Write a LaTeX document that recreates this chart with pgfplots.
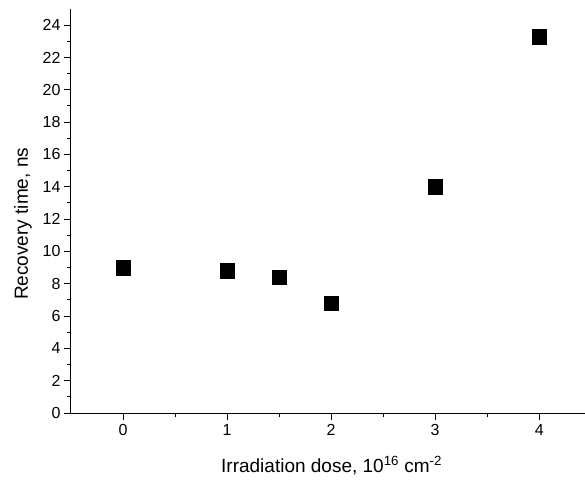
\documentclass[border=0pt]{standalone}
\usepackage{fontspec}
\setmainfont{Liberation Sans}
\usepackage{pgfplots}
\pgfplotsset{compat=1.18}
\begin{document}
\begin{tikzpicture}
\path[use as bounding box] (-71pt,-68pt) rectangle (514pt,413pt);
\begin{axis}[
  at={(0,0)}, anchor=south west,
  scale only axis, width=514pt, height=404pt,
  xmin=-0.5, xmax=4.44, ymin=0, ymax=25,
  axis x line=bottom, axis y line=left,
  axis line style={-, line width=1pt},
  tick align=outside, major tick length=7pt, minor tick length=4pt,
  every tick/.style={black, line width=1pt},
  xtick={0,1,2,3,4}, minor xtick={0.5,1.5,2.5,3.5},
  ytick={0,2,...,24}, minor ytick={1,3,...,23},
  tick label style={font=\fontsize{16}{18}\selectfont},
  /pgf/number format/assume math mode=true,
  xticklabel style={yshift=-1pt},
  yticklabel style={xshift=0pt},
  xlabel={Irradiation dose, 10\textsuperscript{16} cm\textsuperscript{-2}},
  ylabel={Recovery time, ns},
  label style={font=\fontsize{19}{21}\selectfont},
  xlabel style={at={([yshift=-59pt]axis description cs:0.507,0)}, anchor=base},
  ylabel style={at={([xshift=-43pt]axis description cs:0,0.468)}, anchor=base},
  clip=false,
]
\addplot[only marks, mark=square*, mark size=7.3pt, mark options={fill=black, draw=black}]
  coordinates {(0,9.0) (1,8.8) (1.5,8.4) (2,6.8) (3,14.0) (4,23.3)};
\end{axis}
\end{tikzpicture}
\end{document}
